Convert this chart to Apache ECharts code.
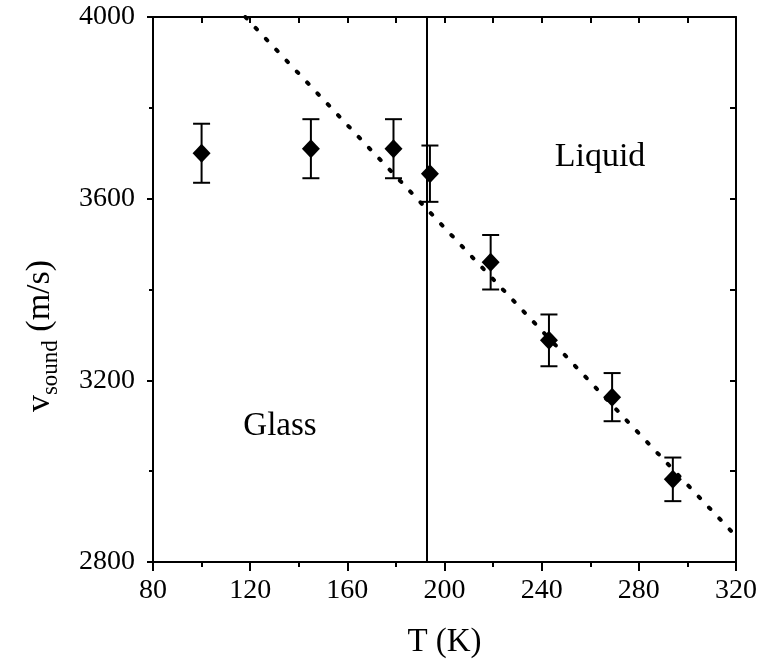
<!DOCTYPE html>
<html>
<head>
<meta charset="utf-8">
<script src="https://cdn.jsdelivr.net/npm/echarts@6/dist/echarts.min.js"></script>
<style>
html,body{margin:0;padding:0;background:#fff;}
#chart{width:761px;height:664px;}
</style>
</head>
<body>
<div id="chart"></div>
<script>
// ---- data ----
const temps   = [100, 145, 179, 194, 219, 243, 269, 294];        // T (K)
const vSound  = [3700, 3710, 3710, 3655, 3460, 3288, 3163, 2982]; // m/s
const vErr    = [65, 65, 65, 62, 60, 57, 53, 48];                 // +/- m/s
const fitT    = [118, 320];
const fitV    = [4000, 2857];
const transitionT = 192.5;
const xMin = 80, xMax = 320, xStep = 40;
const yMin = 2800, yMax = 4000, yStep = 400;
const labelGlass = 'Glass';
const labelLiquid = 'Liquid';

const FONT = '"Liberation Serif", "Times New Roman", serif';

const pts = temps.map((t, i) => [t, vSound[i]]);
const errData = temps.map((t, i) => [t, vSound[i] - vErr[i], vSound[i] + vErr[i]]);
const fitData = fitT.map((t, i) => [t, fitV[i]]);

const chart = echarts.init(document.getElementById('chart'));

const axisLine = { show: true, lineStyle: { color: '#000', width: 2 } };

const option = {
  backgroundColor: '#fff',
  animation: false,
  grid: { left: 153, right: 25, top: 17, bottom: 98, containLabel: false },
  xAxis: [
    {
      type: 'value', min: xMin, max: xMax, interval: xStep, position: 'bottom',
      axisLine: axisLine,
      axisTick: { show: true, inside: false, length: 9, lineStyle: { color: '#000', width: 2 } },
      minorTick: { show: true, splitNumber: 2, length: 5, lineStyle: { color: '#000', width: 2 } },
      splitLine: { show: false },
      axisLabel: { color: '#000', fontFamily: FONT, fontSize: 28, margin: 15, formatter: v => String(v) },
      name: 'T (K)', nameLocation: 'middle', nameGap: 64,
      nameTextStyle: { color: '#000', fontFamily: FONT, fontSize: 33 }
    },
    {
      type: 'value', min: xMin, max: xMax, interval: xStep, position: 'top',
      axisLine: axisLine,
      axisTick: { show: true, inside: true, length: 6, lineStyle: { color: '#000', width: 2 } },
      minorTick: { show: true, splitNumber: 2, length: 6, lineStyle: { color: '#000', width: 2 } },
      splitLine: { show: false },
      axisLabel: { show: false }
    }
  ],
  yAxis: [
    {
      type: 'value', min: yMin, max: yMax, interval: yStep, position: 'left',
      axisLine: axisLine,
      axisTick: { show: true, inside: false, length: 6, lineStyle: { color: '#000', width: 2 } },
      minorTick: { show: true, splitNumber: 2, length: 4, lineStyle: { color: '#000', width: 2 } },
      splitLine: { show: false },
      axisLabel: { color: '#000', fontFamily: FONT, fontSize: 28, margin: 18, formatter: v => String(v) }
    },
    {
      type: 'value', min: yMin, max: yMax, interval: yStep, position: 'right',
      axisLine: axisLine,
      axisTick: { show: true, inside: true, length: 6, lineStyle: { color: '#000', width: 2 } },
      minorTick: { show: true, splitNumber: 2, length: 6, lineStyle: { color: '#000', width: 2 } },
      splitLine: { show: false },
      axisLabel: { show: false }
    }
  ],
  series: [
    {
      type: 'line', data: fitData, showSymbol: false, symbol: 'none',
      lineStyle: { color: '#000', width: 4, type: [2, 13], cap: 'round' },
      silent: true, z: 2,
      markLine: {
        silent: true, symbol: 'none', label: { show: false },
        lineStyle: { color: '#000', width: 2, type: 'solid' },
        data: [{ xAxis: transitionT }]
      }
    },
    {
      type: 'custom', data: errData, z: 3,
      renderItem: function (params, api) {
        const x = api.value(0);
        const lo = api.coord([x, api.value(1)]);
        const hi = api.coord([x, api.value(2)]);
        const hw = 8.5;
        const st = { stroke: '#000', lineWidth: 2 };
        return {
          type: 'group',
          children: [
            { type: 'line', shape: { x1: lo[0], y1: lo[1], x2: hi[0], y2: hi[1] }, style: st },
            { type: 'line', shape: { x1: lo[0] - hw, y1: lo[1], x2: lo[0] + hw, y2: lo[1] }, style: st },
            { type: 'line', shape: { x1: hi[0] - hw, y1: hi[1], x2: hi[0] + hw, y2: hi[1] }, style: st }
          ]
        };
      }
    },
    {
      type: 'scatter', data: pts, symbol: 'diamond', symbolSize: [18, 19],
      itemStyle: { color: '#000', opacity: 1 }, z: 4
    }
  ],
  graphic: [
    {
      type: 'text', x: 280, y: 426,
      style: { text: labelGlass, fill: '#000', font: '33px ' + FONT, align: 'center', verticalAlign: 'middle' }
    },
    {
      type: 'text', x: 600, y: 157,
      style: { text: labelLiquid, fill: '#000', font: '34px ' + FONT, align: 'center', verticalAlign: 'middle' }
    },
    {
      type: 'text', x: 40, y: 336, rotation: Math.PI / 2,
      style: {
        text: '{a|v}{b|sound}{a| (m/s)}',
        align: 'center', verticalAlign: 'middle', fill: '#000',
        rich: {
          a: { fontFamily: FONT, fontSize: 34, color: '#000', verticalAlign: 'top', lineHeight: 34 },
          b: { fontFamily: FONT, fontSize: 23, color: '#000', verticalAlign: 'top', lineHeight: 23, padding: [16, 0, 0, 0] }
        }
      }
    }
  ]
};
chart.setOption(option);
</script>
</body>
</html>
